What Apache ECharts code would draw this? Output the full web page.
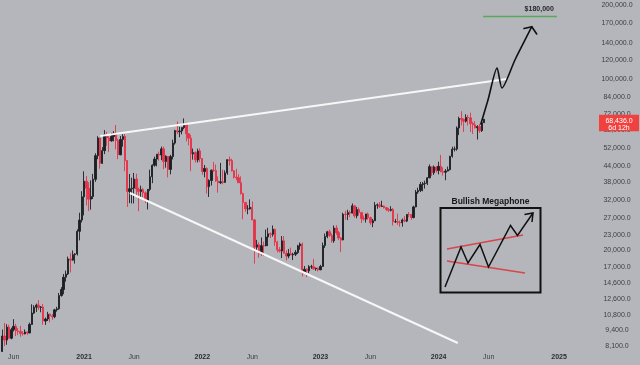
<!DOCTYPE html>
<html><head><meta charset="utf-8">
<script src="https://cdn.jsdelivr.net/npm/echarts@6/dist/echarts.min.js"></script>
<style>html,body{margin:0;padding:0;background:#b3b5ba;}#c{width:640px;height:365px;}</style>
</head><body><div id="c"></div>
<script>
// ---- data (weekly BTC candles) ----
const firstWeek = '2020-04-20';
const opens = [7120,7700,8900,8570,9680,8720,9450,9750,9340,9300,9120,9080,9250,9160,9930,11050,11670,11900,11650,11700,10250,10450,10930,10770,10670,11390,11500,13030,13790,15480,15960,18400,18180,19150,19270,23850,26500,
33000,38200,35800,32280,33100,38900,48600,57400,45200,50950,59100,57400,55850,58200,60000,56100,49000,56600,58200,46400,34700,35600,35800,39000,35500,34700,35300,34250,31800,35400,39850,44400,47050,49250,48900,51800,46000,48300,42700,48200,54700,61500,60850,61300,63300,65500,59700,57300,49400,50100,46700,50800,
47300,41850,43100,36300,38500,42400,42250,38300,37700,38000,37800,41300,46800,46400,42150,39700,39450,37650,34000,31300,29450,29450,29900,26550,20550,21000,19300,20850,20800,22600,23300,23200,24300,21550,20050,19800,21800,19400,18900,19300,19100,19200,19550,20800,21150,16300,16700,16450,17100,17100,16750,16850,
16600,17130,20850,22700,23750,22950,21800,24600,23550,22400,22000,28000,27950,28450,28300,30300,27600,29250,28450,26900,26750,28080,27100,25850,26350,30500,30600,30150,30250,29800,29300,29050,29300,26100,26100,25900,25850,26550,26250,27950,27900,27150,30000,34500,35000,37050,37350,37450,39450,43800,41400,43700,
42300,43950,41750,41580,42050,42600,48300,51650,51700,63100,68950,68390,67210,69650,69360,65700,64940,63120,63890,61480,66270];
const highs = [7770,9460,10070,9950,9900,9620,10430,9990,9600,9800,9300,9470,9300,10100,12000,11900,12080,12480,11800,12050,10600,11180,10990,10950,11500,11720,13350,14100,15960,16480,18800,19480,19920,19420,24300,28400,34800,
41950,40100,37850,38500,40950,49700,58350,57500,52640,61800,60800,58400,60200,61200,64850,57000,58450,59500,59600,46600,40900,39500,41300,41000,36000,36650,35950,34700,35400,42600,44800,48150,49300,50500,52900,52900,48800,48300,49000,56500,62000,67000,63700,63300,69000,66300,59900,59200,51950,50600,51900,52100,
47500,44500,43500,38900,42600,45800,44700,40000,45400,42600,42300,46900,48200,47200,42400,42950,40800,40000,34300,31300,30500,32200,31600,26800,22000,21500,22500,21650,24250,24650,23600,25200,24450,21800,20550,22800,22800,19950,20200,20450,19500,20000,21000,21450,21450,17200,16800,17350,17400,18400,16950,16950,
17400,21450,23350,23950,24250,23350,25200,25250,23900,22600,28400,28900,29200,29000,31000,30500,30000,29850,28650,27650,27500,28450,27400,26800,31400,31000,31400,31800,30400,30000,29700,30200,29700,26800,28150,26400,26900,27500,28000,28600,27950,30350,35200,35950,37950,37950,38400,39700,44750,43800,44300,44000,
45900,48950,43550,42850,43850,48550,52850,52950,64000,70100,73800,68950,71770,71300,72800,66870,67200,64740,65500,67700,68700];
const lows = [6760,7660,8100,8200,8700,8630,9290,8900,9000,8850,8940,9050,9000,9150,9900,10950,11150,11380,11130,9900,9880,10250,10140,10370,10530,11200,11400,12900,13200,14850,15800,16200,18100,17600,19000,21900,25900,
27700,30400,28850,29250,32300,37990,47000,43000,45000,49300,53300,50400,55400,55600,51500,47000,48800,52900,42000,30000,31100,31000,31000,33400,28800,32700,32900,31100,29300,34800,37500,43800,43950,46350,46600,42800,43400,39600,40750,46900,53900,59500,57800,59400,62300,55600,53500,42000,46800,45500,45600,45700,
40600,39650,34000,32950,36700,41700,38000,34300,37200,37100,37600,40600,44250,41900,39200,38550,37600,33700,26700,28650,28000,29250,26500,17600,19650,18600,19000,18900,20750,20750,22400,22700,20800,19550,19550,18550,19350,18150,18500,19050,18200,18900,19250,20050,15600,16200,15500,16100,16750,16600,16450,16350,
16550,17100,20400,22350,22600,21450,21400,23100,21950,19600,21900,26600,26500,27250,28200,27150,26950,27650,25800,26400,25900,26600,25350,24800,26250,29500,29700,30000,29550,28900,28600,28750,25200,25800,25350,24900,24900,26000,26000,27200,26550,26950,29900,33900,34500,34750,35650,36850,39300,40200,40550,41450,
40750,41550,40300,38550,41900,42300,47700,50550,50900,59000,64550,60760,66400,64500,60660,59600,62800,56550,60200,60760,66100];
const closes = [7700,8900,8570,9680,8720,9450,9750,9340,9300,9120,9080,9250,9160,9930,11050,11670,11900,11650,11700,10250,10450,10930,10770,10670,11390,11500,13030,13790,15480,15960,18400,18180,19150,19270,23850,26500,33000,
38200,35800,32280,33100,38900,48600,57400,45200,50950,59100,57400,55850,58200,60000,56100,49000,56600,58200,46400,34700,35600,35800,39000,35500,34700,35300,34250,31800,35400,39850,44400,47050,49250,48900,51800,46000,48300,42700,48200,54700,61500,60850,61300,63300,65500,59700,57300,49400,50100,46700,50800,47300,
41850,43100,36300,38500,42400,42250,38300,37700,38000,37800,41300,46800,46400,42150,39700,39450,37650,34000,31300,29450,29450,29900,26550,20550,21000,19300,20850,20800,22600,23300,23200,24300,21550,20050,19800,21800,19400,18900,19300,19100,19200,19550,20800,21150,16300,16700,16450,17100,17100,16750,16850,16600,
17130,20850,22700,23750,22950,21800,24600,23550,22400,22000,28000,27950,28450,28300,30300,27600,29250,28450,26900,26750,28080,27100,25850,26350,30500,30600,30150,30250,29800,29300,29050,29300,26100,26100,25900,25850,26550,26250,27950,27900,27150,30000,34500,35000,37050,37350,37450,39450,43800,41400,43700,42300,
43950,41750,41580,42050,42600,48300,51650,51700,63100,68950,68390,67210,69650,69360,65700,64940,63120,63890,61480,66270,68436];
const lastPrice = 68436;
const countdownText = '6d 12h';
const yTickValues = [200000,170000,140000,120000,100000,84000,72000,62000,52000,44000,38000,32000,27000,23000,20000,17000,14600,12600,10800,9400,8100];
const xTickDates = ['2020-06-01','2021-01-04','2021-06-07','2022-01-03','2022-06-06','2023-01-02','2023-06-05','2024-01-01','2024-06-03','2025-01-06'];
const upperTrend = [['2021-02-22',58470],['2024-07-29',99970]];
const lowerTrend = [['2021-05-25',34200],['2024-02-29',8336]];
const targetLine = [['2024-05-17',180000],['2024-12-30',180000]];
const targetText = '$180,000';
const arrowPath = [['2024-05-10',65460],['2024-06-01',82040],['2024-06-29',110860],['2024-07-14',91850],['2024-08-23',119540],['2024-10-14',163530]];
const arrowHead = [['2024-09-20',160780],['2024-10-14',163530],['2024-10-29',152660]];
const insetTitle = 'Bullish Megaphone';

// ---- helpers ----
const DAY = 86400000;
function t(s){const p=s.split('-');return Date.UTC(+p[0],+p[1]-1,+p[2]);}
const t0 = t(firstWeek);
const candles = opens.map((o,i)=>[t0+i*7*DAY, o, closes[i], lows[i], highs[i]]);
const pts = a => a.map(p=>[t(p[0]),p[1]]);
const fmtPrice = v => Number(v).toLocaleString('en-US',{minimumFractionDigits:1,maximumFractionDigits:1});
const FONT = 'Liberation Sans';
const TXT = '#3d4047';

const chart = echarts.init(document.getElementById('c'), null, {renderer:'canvas'});
chart.setOption({
  animation:false,
  backgroundColor:'#b4b6bb',
  grid:{left:0,right:40,top:0,bottom:15},
  xAxis:{type:'time', min:t('2020-04-20'), max:t('2025-05-12'),
    axisLine:{show:false}, axisTick:{show:false}, splitLine:{show:false}, axisLabel:{show:false}},
  yAxis:{type:'log', position:'right', min:7806, max:210250,
    axisLine:{show:false}, axisTick:{show:false}, splitLine:{show:false},
    axisLabel:{customValues:yTickValues, fontFamily:FONT, fontSize:7, color:TXT, align:'center', margin:17,
      formatter:fmtPrice}},
  series:[
    {type:'candlestick', data:candles, encode:{x:0,y:[1,2,3,4]}, barWidth:1.8, clip:true,
      itemStyle:{color:'#1c1f25', color0:'#e5334a', borderColor:'#1c1f25', borderColor0:'#e5334a', borderWidth:0.9}},
    {type:'line', data:pts(upperTrend), symbol:'none', lineStyle:{color:'#f7f7f7',width:2}, z:5},
    {type:'line', data:pts(lowerTrend), symbol:'none', lineStyle:{color:'#f7f7f7',width:2}, z:5},
    {type:'line', data:pts(targetLine), symbol:'none', lineStyle:{color:'#58a85c',width:1.6}, z:5},
    {type:'line', data:pts(arrowPath), symbol:'none', smooth:0.25, lineStyle:{color:'#111',width:1.6,cap:'round',join:'round'}, z:6},
    {type:'line', data:pts(arrowHead), symbol:'none', lineStyle:{color:'#111',width:1.6,cap:'round',join:'round'}, z:6}
  ]
});

// annotations positioned through the chart's scales
const lp = chart.convertToPixel({yAxisIndex:0}, lastPrice);
const tp = chart.convertToPixel({xAxisIndex:0,yAxisIndex:0}, [t(targetLine[1][0]), targetLine[1][1]]);
const xLabelGraphics = xTickDates.map(s=>{
  const d = new Date(t(s)); const isYear = d.getUTCMonth()===0;
  return {type:'text', x:chart.convertToPixel({xAxisIndex:0}, t(s)), y:357.5,
    style:{text:isYear?String(d.getUTCFullYear()):'Jun', fill:isYear?'#2a2d33':TXT,
      font:(isYear?'bold ':'')+'7px "'+FONT+'"', align:'center', verticalAlign:'middle'}, z:50};
});
chart.setOption({graphic:xLabelGraphics.concat([
  {type:'rect', shape:{x:599, y:lp-4.5, width:40, height:16.5}, style:{fill:'#f0413f'}, z:100},
  {type:'text', x:619, y:lp+1.3, style:{text:fmtPrice(lastPrice), fill:'#fff', font:'7px "'+FONT+'"', align:'center', verticalAlign:'middle'}, z:101},
  {type:'text', x:619, y:lp+8.3, style:{text:countdownText, fill:'#fff', font:'7px "'+FONT+'"', align:'center', verticalAlign:'middle'}, z:101},
  {type:'text', x:tp[0]-3, y:tp[1]-4, style:{text:targetText, fill:'#25282e', font:'bold 7px "'+FONT+'"', align:'right', verticalAlign:'bottom'}, z:101},
  {type:'text', x:490.5, y:201.5, style:{text:insetTitle, fill:'#15171b', font:'bold 8.5px "'+FONT+'"', align:'center', verticalAlign:'middle'}, z:101},
  {type:'rect', shape:{x:440.5, y:208, width:100, height:84.5}, style:{fill:null, stroke:'#111', lineWidth:2}, z:101},
  {type:'line', shape:{x1:447, y1:249, x2:523, y2:235}, style:{stroke:'#d9454a', lineWidth:1.5}, z:101},
  {type:'line', shape:{x1:447, y1:261, x2:525, y2:273}, style:{stroke:'#d9454a', lineWidth:1.5}, z:101},
  {type:'polyline', shape:{points:[[445,287],[461,247],[468,263],[480,244.5],[488.5,267],[510.5,225.5],[517.5,235.5],[533,213]]}, style:{stroke:'#111', lineWidth:1.5, fill:null, lineJoin:'miter'}, z:102},
  {type:'polyline', shape:{points:[[524.5,214.5],[533,213],[532,222]]}, style:{stroke:'#111', lineWidth:1.5, fill:null}, z:102}
])});
</script></body></html>
